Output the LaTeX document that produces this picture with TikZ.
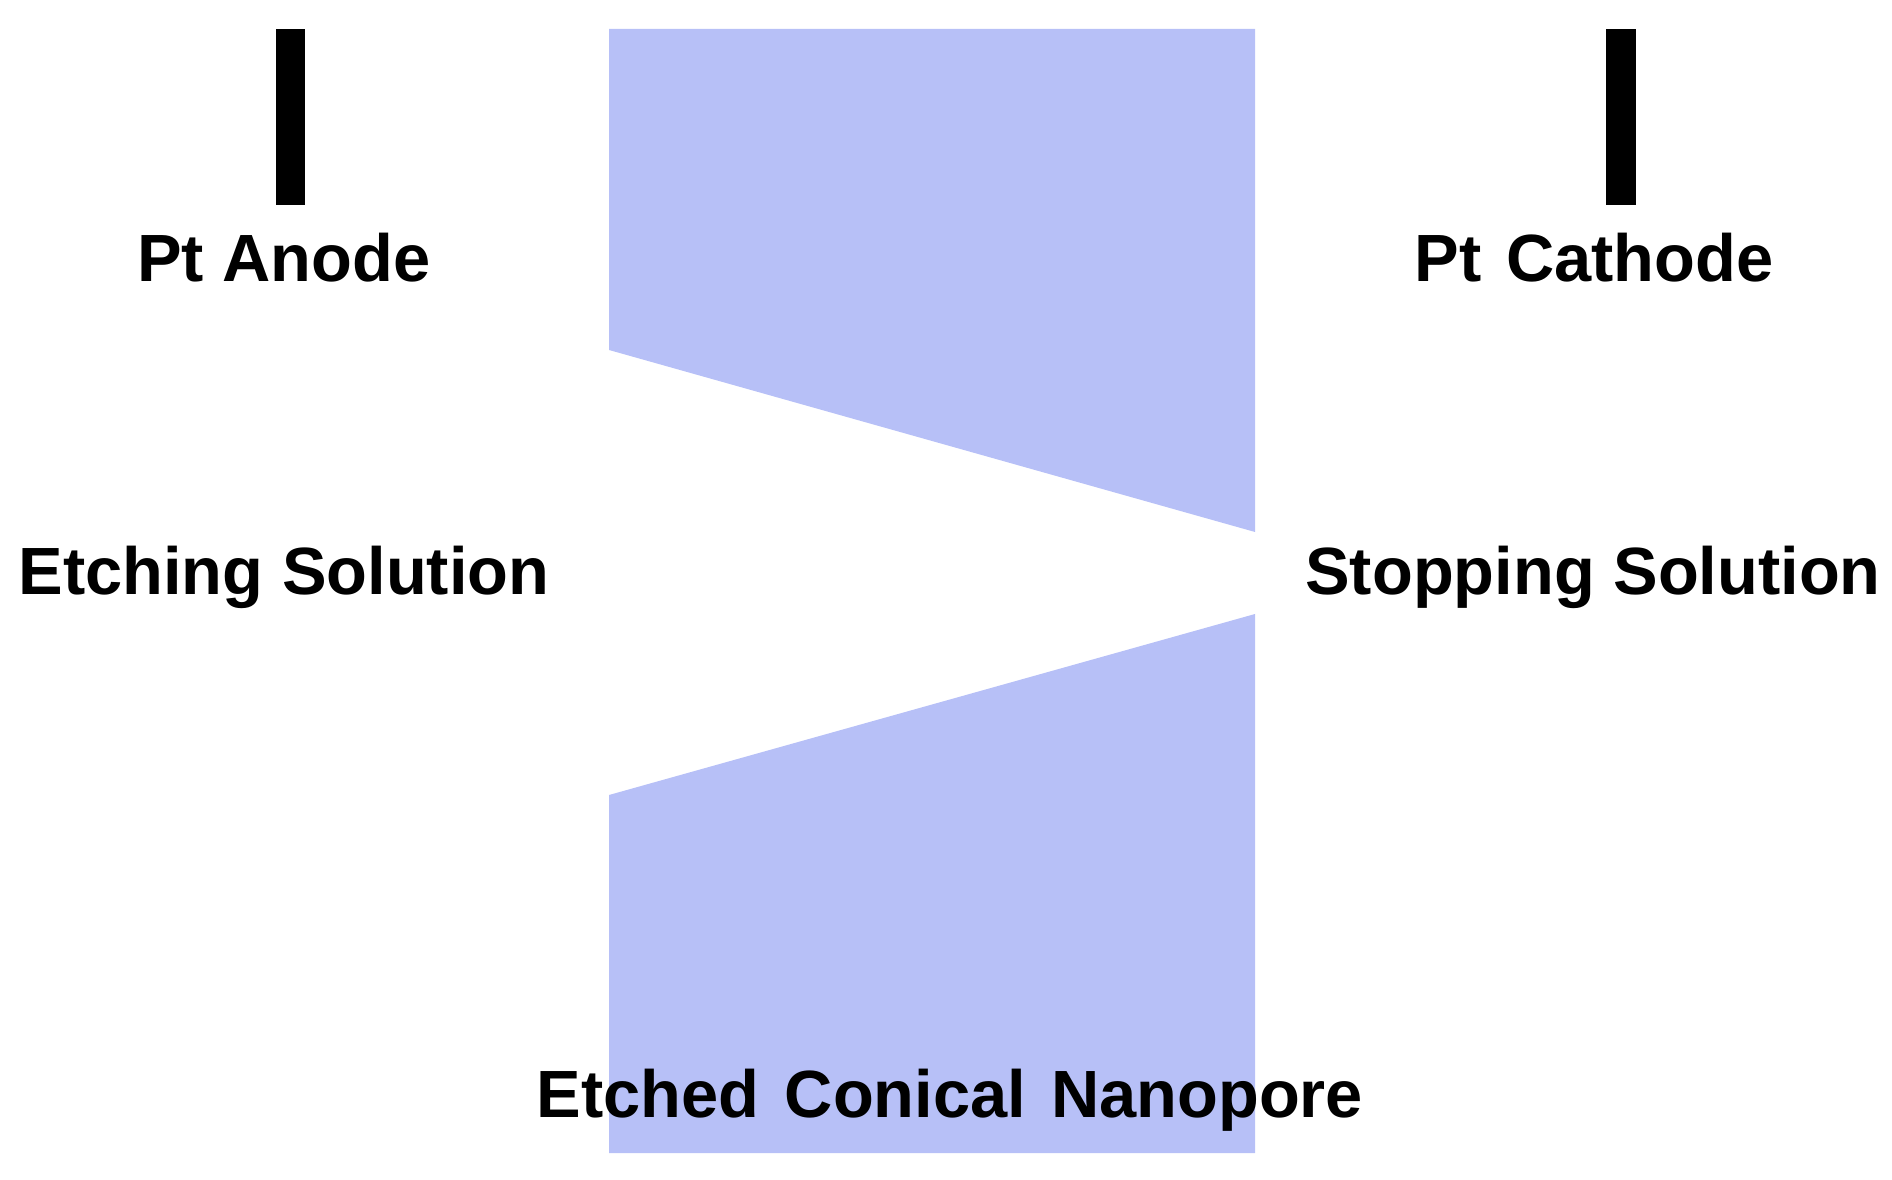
\documentclass[tikz,border=0pt]{standalone}
\usepackage{fontspec}
\setmainfont{Liberation Sans}
\newfontfamily\widefont[WordSpace=1.35]{Liberation Sans}
\definecolor{membrane}{RGB}{183,192,247}
\tikzset{
  lab/.style = {font=\fontsize{19}{22}\selectfont\bfseries, inner sep=0pt, anchor=center},
  widelab/.style = {lab, font=\widefont\fontsize{19}{22}\selectfont\bfseries},
  electrode/.style = {fill=black, draw=none},
  foil/.style = {fill=membrane, draw=none}
}
\begin{document}
\begin{tikzpicture}[x=0.01cm,y=-0.01cm]
\useasboundingbox (0,0) rectangle (1892,1180);

% --- membrane ---
\fill[foil] (609,29) -- (1255,29) -- (1255,532) -- (609,350) -- cycle;
\fill[foil] (609,795) -- (1255,614) -- (1255,1153) -- (609,1153) -- cycle;

% --- electrodes ---
\fill[electrode] (276,29) rectangle (305,205);
\fill[electrode] (1606,29) rectangle (1636,205);

% --- labels ---
\node[lab] (anode) at (284,258) {Pt Anode};
\node[widelab] (cathode) at (1594,258) {Pt Cathode};
\node[lab] (etching) at (284,577) {Etching Solution};
\node[lab] (stopping) at (1593,577) {Stopping Solution};
\node[widelab] (pore) at (950,1100) {Etched Conical Nanopore};
\end{tikzpicture}
\end{document}
